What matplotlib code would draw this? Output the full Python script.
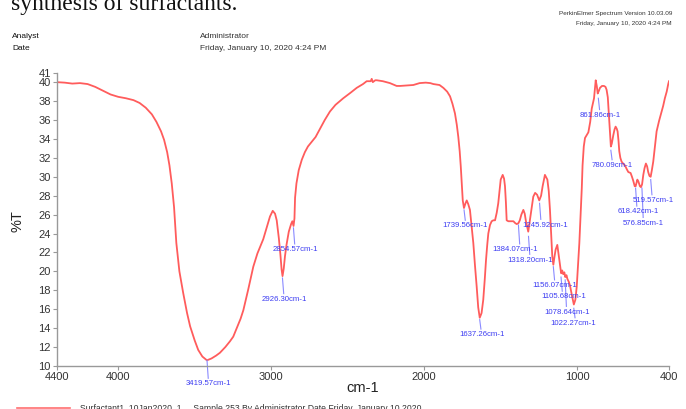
import matplotlib
matplotlib.use("Agg")
import matplotlib.pyplot as plt

plt.rcParams['font.family'] = ['Liberation Sans', 'DejaVu Sans']

# FT-IR spectrum: wavenumber (cm-1) and transmittance (%T)
wavenumber = [
    4400, 4350, 4300, 4250, 4200, 4150, 4100, 4050, 4000, 3950, 3900, 3860, 3820,
    3780, 3750, 3720, 3700, 3680, 3665, 3650, 3635, 3620, 3600, 3575, 3550, 3530,
    3500, 3477, 3450, 3420, 3390, 3360, 3335, 3300, 3270, 3248, 3220, 3200, 3182,
    3150, 3117, 3090, 3052, 3030, 3008, 2990, 2975, 2964, 2950, 2940, 2932, 2926,
    2918, 2910, 2900, 2885, 2870, 2862, 2854, 2848, 2844, 2835, 2820, 2800, 2780,
    2760, 2740, 2710, 2680, 2650, 2616, 2580, 2529, 2480, 2441, 2400, 2376, 2350,
    2343, 2336, 2320, 2310, 2270, 2224, 2180, 2158, 2110, 2071, 2030, 1990, 1960,
    1940, 1900, 1875, 1850, 1831, 1815, 1799, 1787, 1777, 1768, 1761, 1755, 1748,
    1740, 1730, 1722, 1712, 1701, 1690, 1679, 1668, 1657, 1647, 1637, 1625, 1614,
    1604, 1596, 1588, 1581, 1570, 1559, 1548, 1537, 1526, 1516, 1505, 1500, 1487,
    1478, 1472, 1466, 1461, 1450, 1439, 1417, 1405, 1395, 1384, 1375, 1365, 1352,
    1343, 1335, 1320, 1310, 1302, 1287, 1275, 1262, 1248, 1236, 1226, 1211, 1195,
    1186, 1178, 1170, 1163, 1156, 1148, 1141, 1130, 1120, 1110, 1105, 1098, 1091,
    1084, 1078, 1070, 1064, 1055, 1047, 1035, 1022, 1012, 1003, 994, 986, 978,
    970, 965, 957, 949, 938, 927, 915, 905, 890, 884, 879, 872, 866, 858, 851,
    838, 825, 815, 808, 800, 797, 791, 786, 780, 774, 764, 756, 749, 742, 736,
    730, 725, 718, 710, 700, 688, 676, 666, 651, 642, 634, 624, 618, 612, 607,
    600, 590, 583, 576, 568, 560, 551, 543, 536, 528, 520, 512, 503, 495, 481,
    465, 448, 438, 427, 415, 405, 400,
]
transmittance = [
    40.0, 39.95, 39.85, 39.9, 39.8, 39.5, 39.1, 38.7, 38.45, 38.3, 38.1, 37.8, 37.3,
    36.6, 35.8, 34.8, 33.9, 32.6, 31.2, 29.3, 26.8, 23.0, 20.0, 17.7, 15.6, 14.2,
    12.7, 11.7, 11.0, 10.6, 10.8, 11.1, 11.4, 12.0, 12.6, 13.1, 14.2, 15.0, 15.9,
    18.1, 20.5, 21.9, 23.4, 24.6, 25.8, 26.4, 26.1, 25.4, 23.5, 21.8, 20.2, 19.5,
    20.3, 21.6, 22.8, 24.2, 25.0, 25.3, 24.8, 25.6, 27.8, 29.3, 30.7, 31.8, 32.6,
    33.2, 33.6, 34.2, 35.1, 36.0, 36.9, 37.6, 38.3, 38.9, 39.4, 39.8, 40.1, 40.1,
    40.35, 40.0, 40.2, 40.2, 40.1, 39.9, 39.6, 39.6, 39.65, 39.7, 39.9, 39.95, 39.9,
    39.8, 39.7, 39.4, 39.0, 38.5, 37.7, 36.7, 35.5, 34.2, 32.7, 31.1, 29.5, 27.5,
    26.7, 27.2, 27.5, 27.1, 26.5, 24.8, 23.0, 20.6, 18.4, 16.2, 15.1, 15.6, 17.0,
    19.2, 21.2, 22.8, 24.0, 24.9, 25.3, 25.4, 25.4, 26.2, 27.2, 28.9, 29.7, 30.2,
    29.8, 29.0, 27.3, 25.4, 25.3, 25.3, 25.3, 25.1, 25.0, 25.1, 25.4, 26.0, 26.5,
    26.1, 25.3, 24.2, 25.3, 26.1, 27.9, 28.3, 28.1, 27.5, 28.0, 29.0, 30.2, 29.7,
    28.5, 26.5, 23.9, 21.6, 20.7, 21.6, 22.3, 22.8, 21.6, 20.4, 19.8, 20.1, 19.7,
    19.9, 19.4, 19.6, 19.2, 18.9, 18.5, 17.5, 16.5, 17.0, 18.4, 20.8, 23.0, 26.0,
    28.8, 31.2, 33.2, 34.1, 34.4, 34.7, 35.8, 37.2, 38.3, 39.3, 40.2, 39.6, 38.8, 39.1, 39.4,
    39.6, 39.6, 39.5, 39.2, 38.4, 37.6, 36.0, 34.8, 33.2, 33.5, 34.4, 35.0, 35.3, 35.1, 34.8,
    33.8, 32.7, 32.0, 31.6, 31.4, 31.2, 30.8, 30.5, 30.4, 30.0, 29.6, 29.0, 29.0, 29.4, 29.7,
    29.5, 29.0, 28.9, 29.2, 30.2, 30.9, 31.4, 31.1, 30.5, 30.1, 30.0, 30.7, 31.6, 32.8, 34.8,
    35.9, 36.9, 37.5, 38.3, 39.0, 39.8, 40.1,
]

# Picked peaks
peak_wn = [3419.57, 2926.30, 2854.57, 1739.56, 1637.26, 1384.07, 1318.20, 1245.92,
           1156.07, 1105.68, 1078.64, 1022.27, 861.86, 780.09, 618.42, 576.85, 519.57]
peak_T = [10.6, 19.3, 24.6, 26.5, 14.9, 24.9, 23.7, 27.2,
          20.5, 19.4, 19.1, 16.1, 38.3, 32.8, 28.8, 28.8, 29.7]
# Label anchor (wavenumber, %T) for each peak tag
label_pos = [(3407, 8.1), (2914, 17.05), (2844, 22.3), (1733, 24.8), (1624, 13.3),
             (1407, 22.3), (1309, 21.2), (1210, 24.9), (1145, 18.5), (1091, 17.3),
             (1069, 15.7), (1025, 14.5), (851, 36.5), (774, 31.2), (601, 26.3),
             (568, 25.1), (503, 27.5)]

x_ticks = [4400, 4000, 3000, 2000, 1000, 400]
y_ticks = [10, 12, 14, 16, 18, 20, 22, 24, 26, 28, 30, 32, 34, 36, 38, 40, 41]

W, H = 686, 409
fig = plt.figure(figsize=(W / 100, H / 100), dpi=100)
ax = fig.add_axes([57 / W, (H - 366) / H, 612 / W, 293.3 / H])

ax.plot(wavenumber, transmittance, color='#ff5c5c', lw=1.3, solid_joinstyle='round')

for wn, t, (lx, ly) in zip(peak_wn, peak_T, label_pos):
    ax.plot([wn, wn - 8], [t, ly + 0.6], color='#8a8aff', lw=0.8, clip_on=False)
    ax.text(lx, ly, f"{wn:.2f}cm-1", color='#3d3df2', fontsize=5.6,
            ha='center', va='center', clip_on=False)

ax.set_xlim(4400, 400)
ax.set_ylim(10, 41)
ax.set_xticks(x_ticks)
ax.set_yticks(y_ticks)
ax.set_xticklabels([str(v) for v in x_ticks])
ax.set_yticklabels([str(v) for v in y_ticks])
for s in ('top', 'right'):
    ax.spines[s].set_visible(False)
for s in ('left', 'bottom'):
    ax.spines[s].set_color('#999999')
    ax.spines[s].set_linewidth(1.0)
ax.tick_params(direction='out', length=3, width=0.8, color='#999999',
               labelsize=8, labelcolor='#333333', pad=1.5)


def px(x, y):
    return x / W, 1 - y / H


fig.text(*px(363, 388), 'cm-1', fontsize=10.5, color='#222222', ha='center', va='center')
fig.text(*px(18, 221), '%T', fontsize=10.5, color='#222222', ha='center', va='center',
         rotation=90)

# Report header
fig.text(*px(11, 10), 'synthesis of surfactants.', fontsize=17, family='Liberation Serif',
         color='#111111', ha='left', va='baseline')
fig.text(*px(672, 14), 'PerkinElmer Spectrum Version 10.03.09', fontsize=4.6,
         color='#333333', ha='right', va='center')
fig.text(*px(672, 24), 'Friday, January 10, 2020 4:24 PM', fontsize=4.6,
         color='#333333', ha='right', va='center')
fig.text(*px(12, 36), 'Analyst', fontsize=6, color='#111111', ha='left', va='center')
fig.text(*px(12, 49), 'Date', fontsize=6, color='#111111', ha='left', va='center')
fig.text(*px(200, 36), 'Administrator', fontsize=6, color='#333333', ha='left', va='center')
fig.text(*px(200, 49), 'Friday, January 10, 2020 4:24 PM', fontsize=6, color='#333333',
         ha='left', va='center')

# Legend strip at the foot of the report
fig.add_artist(plt.Line2D([17 / W, 70 / W], [1 - 408 / H, 1 - 408 / H],
                          color='#ff7070', lw=1.2))
fig.text(*px(80, 404), 'Surfactant1_10Jan2020_1     Sample 253 By Administrator Date Friday, January 10 2020',
         fontsize=6.2, color='#333333', ha='left', va='top')

fig.savefig('out.png', dpi=100)
